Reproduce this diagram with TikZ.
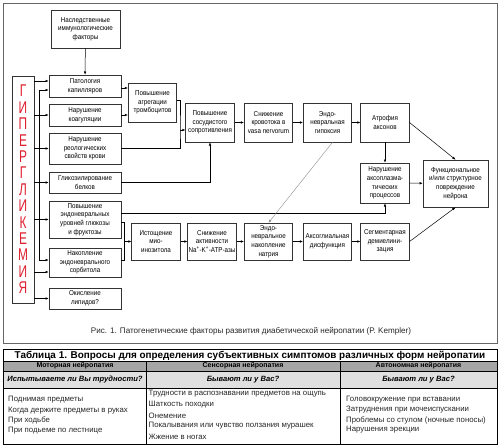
\documentclass[tikz,border=0pt]{standalone}
\usepackage{fontspec}
\setmainfont{Liberation Sans}
\newfontfamily\boxfont[FakeStretch=0.88]{Liberation Sans}
\newfontfamily\hypfont[FakeStretch=0.7]{Liberation Sans}
\usetikzlibrary{arrows.meta}
\definecolor{hypred}{RGB}{222,32,48}

\begin{document}
\begin{tikzpicture}[x=1pt,y=-1pt,
  blok/.style={draw=black!80, line width=0.6pt, fill=white, align=center, inner sep=0pt,
    font=\boxfont\fontsize{7.1}{8.6}\selectfont},
  lcol/.style={blok, minimum width=72pt},
  mbox/.style={blok, minimum width=48.5pt, minimum height=38pt},
  arr/.style={-{Latex[length=3.2pt,width=2.6pt]}, line width=0.5pt},
  arrtwo/.style={{Latex[length=3.2pt,width=2.6pt]}-{Latex[length=3.2pt,width=2.6pt]}, line width=0.5pt},
  ln/.style={line width=0.5pt},
  titem/.style={anchor=west, inner sep=0pt, font=\fontsize{7.8}{9}\selectfont, text=black!85},
  thead/.style={inner sep=0pt, font=\bfseries\fontsize{7}{8}\selectfont}]
\useasboundingbox (0,0) rectangle (500,447);

% figure frame
\draw[black!60, line width=0.6pt] (3,3) rectangle (497,343);

% left column
\node[lcol, minimum width=69pt, minimum height=38pt] (nasl) at (85.5,29) {Наследственные\\иммунологические\\факторы};
\node[lcol, minimum height=22pt] (kap) at (85,86) {Патология\\капилляров};
\node[lcol, minimum height=22pt] (koag) at (85,115) {Нарушение\\коагуляции};
\node[lcol, minimum height=31pt] (reol) at (85,148.5) {Нарушение\\реологических\\свойств крови};
\node[lcol, minimum height=21pt] (glik) at (85,182.5) {Гликозилирование\\белков};
\node[lcol, minimum height=37pt] (glyu) at (85,219.5) {Повышение\\эндоневральных\\уровней глюкозы\\и фруктозы};
\node[lcol, minimum height=29pt] (sorb) at (85,262.5) {Накопление\\эндоневрального\\сорбитола};
\node[lcol, minimum height=21pt] (lip) at (85,298.5) {Окисление\\липидов?};

\node[draw=black!80, line width=0.6pt, minimum width=22pt, minimum height=227pt, inner sep=0pt,
  align=center, text=hypred, font=\hypfont\fontsize{17}{16.4}\selectfont] (hyper) at (23,189.5)
  {Г\\И\\П\\Е\\Р\\Г\\Л\\И\\К\\Е\\М\\И\\Я};

% upper row
\node[mbox, minimum height=39pt] (agr) at (152.5,102.5) {Повышение\\агрегации\\тромбоцитов};
\node[mbox, minimum height=39pt] (sopr) at (210,122.5) {Повышение\\сосудистого\\сопротивления};
\node[mbox, minimum height=39pt] (krov) at (268.5,122.5) {Снижение\\кровотока в\\vasa nervorum};
\node[mbox, minimum height=39pt] (gipox) at (327.5,122.5) {Эндо-\\невральная\\гипоксия};
\node[mbox, minimum height=39pt] (atrof) at (385,122.5) {Атрофия\\аксонов};
\node[mbox, minimum height=40pt] (aksopl) at (385,183) {Нарушение\\аксоплазма-\\тических\\процессов};
\node[blok, minimum width=65pt, minimum height=47pt] (funk) at (455.5,183.5) {Функциональное\\и/или структурное\\повреждение\\нейрона};

% lower row
\node[mbox, minimum height=37pt] (mio) at (156,241.5) {Истощение\\мио-\\инозитола};
\node[mbox, minimum height=37pt] (atf) at (212,241.5) {Снижение\\активности\\Na\textsuperscript{+}-K\textsuperscript{+}-ATP-азы};
\node[mbox, minimum height=37pt] (natr) at (268.5,241.5) {Эндо-\\невральное\\накопление\\натрия};
\node[mbox, minimum height=37pt] (aksogl) at (327.5,241.5) {Аксоглиальная\\дисфункция};
\node[mbox, minimum height=37pt] (demi) at (385,241.5) {Сегментарная\\демиелини-\\зация};

% connectors
\draw[arr] (nasl) -- (kap);
\draw[arr] ([yshift=5pt]kap.west -| hyper.east) -- ([yshift=5pt]kap.west);
\foreach \n in {koag,reol,glik,glyu,lip}
  \draw[arr] (\n.west -| hyper.east) -- (\n.west);
\draw[arr] ([yshift=-9.5pt]sorb.west -| hyper.east) -- ([yshift=-9.5pt]sorb.west);
\draw[arrtwo] ([yshift=-4pt]kap.west) -- ++(-9,0) |- ([yshift=2.5pt]sorb.west);

\draw[arr] ([yshift=-2pt]kap.east) -- ([yshift=-2pt]kap.east -| agr.west);
\draw[arr] (koag.east) -- (koag.east -| agr.west);
\coordinate (j1) at (180,130);
\draw[ln] ([yshift=2.5pt]agr.east) -| (j1) |- (reol.east);
\draw[arr] (j1) -- (j1 -| sopr.west);
\draw[arr] (glik.east) -| (sopr.south);

\draw[arr] (sopr) -- (krov);
\draw[arr] (krov) -- (gipox);
\draw[arr] (gipox) -- (atrof);
\draw[arr] (atrof.east) -- (funk.north);
\draw[arr] (atrof) -- (aksopl);
\draw[arr] (aksopl) -- (funk);
\draw[arr] ([yshift=6.5pt]glyu.east) -| (aksopl.south);

\coordinate (br) at (124.5,241.5);
\draw[ln] ([yshift=-2.5pt]glyu.east) -| (br) |- ([yshift=2.5pt]sorb.east);
\draw[arr] (br) -- (mio);
\draw[arr] (mio) -- (atf);
\draw[arr] (atf) -- (natr);
\draw[arr] (natr) -- (aksogl);
\draw[arr] (aksogl) -- (demi);
\draw[arr] (demi.east) -- (funk.south);
\draw[arr, black!45, line width=0.4pt] ([xshift=5pt]gipox.south) -- (natr.north);

\node[font=\fontsize{8.1}{9}\selectfont, text=black!85] (capt) at (251,331)
  {Рис. 1. Патогенетические факторы развития диабетической нейропатии (P. Kempler)};

% table
\fill[black!35] (3,361) rectangle (497,371);
\fill[black!12] (3,371) rectangle (497,388);
\draw[line width=0.8pt] (3,349) rectangle (497,444);
\draw[line width=0.6pt] (3,361) -- (497,361);
\draw[line width=0.4pt] (3,371) -- (497,371);
\draw[line width=0.6pt] (3,388) -- (497,388);
\draw[line width=0.6pt] (146,361) -- (146,444);
\draw[line width=0.6pt] (340,361) -- (340,444);

\node[font=\bfseries\fontsize{9.9}{12}\selectfont] (ttl) at (250,355.5)
  {Таблица 1. Вопросы для определения субъективных симптомов различных форм нейропатии};
\node[thead] (h1) at (75,366) {Моторная нейропатия};
\node[thead] (h2) at (243,366) {Сенсорная нейропатия};
\node[thead] (h3) at (418.5,366) {Автономная нейропатия};
\node[thead, font=\bfseries\itshape\fontsize{7.6}{9}\selectfont] (q1) at (75,379.5) {Испытываете ли Вы трудности?};
\node[thead, font=\bfseries\itshape\fontsize{7.6}{9}\selectfont] (q2) at (243,379.5) {Бывают ли у Вас?};
\node[thead, font=\bfseries\itshape\fontsize{7.6}{9}\selectfont] (q3) at (418.5,379.5) {Бывают ли у Вас?};

\foreach \t [count=\i] in {Поднимая предметы, Когда держите предметы в руках, При ходьбе, При подьеме по лестнице}
  \node[titem] (mot\i) at (8,389.7+10.3*\i) {\t};
\foreach \t [count=\i] in {Трудности в распознавании предметов на ощупь, Шаткость походки, Онемение,
    Покалывания или чувство ползания мурашек, Жжение в ногах}
  \node[titem] (sen\i) at (148.5,383.3+10.7*\i) {\t};
\foreach \t [count=\i] in {Головокружение при вставании, Затруднения при мочеиспускании,
    Проблемы со стулом (ночные поносы), Нарушения эрекции}
  \node[titem] (aut\i) at (346,390+10*\i) {\t};
\end{tikzpicture}
\end{document}
